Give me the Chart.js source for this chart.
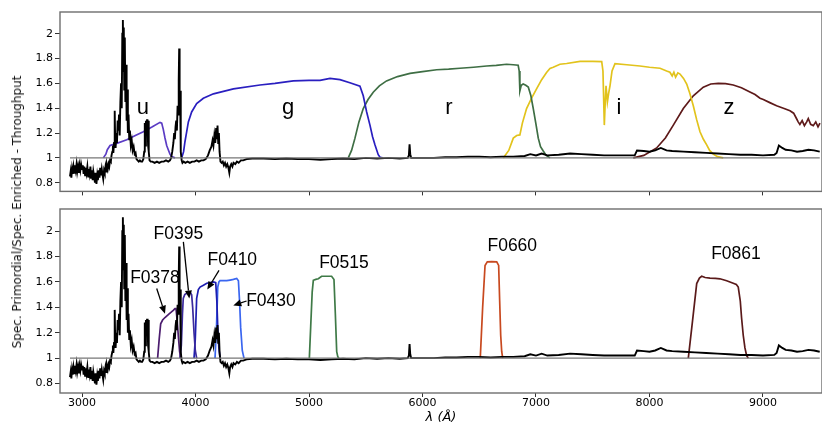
<!DOCTYPE html>
<html>
<head>
<meta charset="utf-8">
<script src="https://cdn.jsdelivr.net/npm/chart.js@4"></script>
<style>
  body { margin: 0; background: #fff; width: 822px; height: 425px; overflow: hidden; position: relative; }
  #topBox { position: absolute; left: 0; top: 0; width: 822px; height: 200px; }
  #botBox { position: absolute; left: 0; top: 200px; width: 822px; height: 225px; }
  #yTitle { position: absolute; left: 17px; top: 212px; transform: translate(-50%, -50%) rotate(-90deg);
            white-space: nowrap; font: 12px "DejaVu Sans", sans-serif; color: #111; }
</style>
</head>
<body>
<div id="topBox"><canvas id="topChart" width="822" height="200"></canvas></div>
<div id="botBox"><canvas id="botChart" width="822" height="225"></canvas></div>
<div id="yTitle">Spec. Primordial/Spec. Enriched - Throughput</div>
<script>
// Rangos y marcas de los ejes
const xMin = 2806, xMax = 9520;
const xTicks = [3000, 4000, 5000, 6000, 7000, 8000, 9000];
const yTicks = [0.8, 1, 1.2, 1.4, 1.6, 1.8, 2];

// Espectro (cociente primordial / enriquecido)
const specWave = [2894, 2900, 2906, 2912, 2918, 2925, 2932, 2938, 2945, 2952, 2958, 2965, 2972, 2978, 2985, 2992,
  3000, 3007, 3014, 3020, 3027, 3034, 3040, 3047, 3054, 3060, 3067, 3074, 3080, 3087, 3094, 3100, 3107, 3114, 3120,
  3127, 3134, 3140, 3147, 3154, 3160, 3167, 3174, 3180, 3187, 3194, 3200, 3207, 3214, 3220, 3227, 3234, 3240, 3247,
  3254, 3260, 3267, 3272, 3276, 3282, 3288, 3292, 3296, 3302, 3308, 3314, 3320, 3326, 3332, 3338, 3344, 3350, 3355,
  3360, 3364, 3368, 3372, 3377, 3382, 3388, 3393, 3398, 3404, 3410, 3416, 3422, 3430, 3438, 3446, 3455, 3464, 3472,
  3480, 3490, 3500, 3510, 3520, 3530, 3540, 3548, 3553, 3558, 3563, 3568, 3573, 3578, 3582, 3586, 3590, 3595, 3605,
  3620, 3640, 3660, 3680, 3700, 3720, 3740, 3760, 3775, 3785, 3795, 3805, 3812, 3818, 3824, 3830, 3836, 3842, 3848,
  3852, 3856, 3860, 3864, 3868, 3872, 3878, 3885, 3895, 3910, 3930, 3950, 3970, 3990, 4010, 4030, 4050, 4070, 4090,
  4110, 4125, 4140, 4150, 4158, 4166, 4174, 4182, 4188, 4194, 4200, 4206, 4212, 4220, 4230, 4240, 4250, 4260, 4270,
  4280, 4290, 4298, 4305, 4315, 4325, 4335, 4350, 4365, 4380, 4400, 4420, 4450, 4500, 4600, 4700, 4800, 4900, 5000,
  5100, 5200, 5300, 5400, 5500, 5600, 5700, 5800, 5870, 5880, 5886, 5892, 5900, 6000, 6100, 6200, 6300, 6400, 6500,
  6600, 6700, 6800, 6900, 6950, 7000, 7050, 7100, 7200, 7300, 7400, 7500, 7600, 7700, 7800, 7870, 7890, 7950, 8000,
  8050, 8100, 8150, 8200, 8300, 8400, 8500, 8600, 8700, 8800, 8900, 9000, 9100, 9120, 9140, 9170, 9200, 9250, 9300,
  9350, 9400, 9450, 9500];
const specRatio = [0.85, 0.89, 0.84, 0.91, 0.87, 0.93, 0.88, 0.94, 0.90, 0.95, 0.89, 0.93, 0.88, 0.94, 0.90, 0.95,
  0.91, 0.94, 0.87, 0.93, 0.86, 0.92, 0.88, 0.93, 0.85, 0.91, 0.87, 0.93, 0.84, 0.90, 0.82, 0.89, 0.85, 0.80, 0.88,
  0.79, 0.86, 0.82, 0.90, 0.84, 0.92, 0.86, 0.91, 0.87, 0.83, 0.90, 0.88, 0.93, 0.89, 0.94, 0.91, 0.95, 0.93, 0.98,
  0.97, 1.02, 1.05, 1.10, 1.04, 1.12, 1.38, 1.15, 1.08, 1.20, 1.12, 1.30, 1.22, 1.35, 1.18, 1.45, 1.60, 1.40, 2.00,
  2.11, 1.70, 2.05, 1.55, 1.97, 1.45, 1.75, 1.30, 1.55, 1.20, 1.35, 1.15, 1.22, 1.10, 1.14, 1.06, 1.09, 1.03, 1.04,
  0.99, 0.98, 0.97, 0.98, 0.97, 0.97, 0.99, 1.05, 1.28, 1.10, 1.30, 1.18, 1.31, 1.25, 1.10, 1.30, 1.05, 0.98, 0.97,
  0.97, 0.96, 0.97, 0.96, 0.97, 0.97, 0.98, 0.97, 0.98, 1.00, 1.05, 1.12, 1.20, 1.15, 1.25, 1.30, 1.22, 1.42, 1.35,
  1.62, 1.88, 1.40, 1.54, 1.20, 1.05, 0.98, 0.96, 0.97, 0.96, 0.97, 0.96, 0.97, 0.97, 0.98, 0.97, 0.98, 0.98, 0.99,
  1.02, 1.06, 1.09, 1.14, 1.10, 1.18, 1.12, 1.24, 1.15, 1.26, 1.12, 1.20, 1.05, 0.97, 0.96, 0.97, 0.94, 0.96, 0.93,
  0.95, 0.92, 0.88, 0.93, 0.95, 0.93, 0.96, 0.95, 0.97, 0.96, 0.98, 0.98, 0.99, 0.995, 0.995, 0.99, 0.995, 0.99, 0.99,
  0.985, 0.99, 0.995, 0.99, 1.0, 0.995, 1.0, 0.995, 1.0, 1.02, 1.11, 1.03, 1.0, 1.0, 1.0, 1.005, 1.005, 1.01, 1.01,
  1.005, 1.01, 1.01, 1.015, 1.03, 1.02, 1.035, 1.02, 1.025, 1.035, 1.03, 1.025, 1.02, 1.02, 1.02, 1.02, 1.06, 1.055, 1.05,
  1.06, 1.08, 1.06, 1.055, 1.05, 1.045, 1.04, 1.035, 1.03, 1.025, 1.025, 1.02, 1.025, 1.04, 1.10, 1.08, 1.065, 1.06, 1.05,
  1.055, 1.065, 1.06, 1.05];

// Linea de referencia en 1
const unityWave = [2894, 9500];
const unityRatio = [1, 1];

// Filtros anchos (panel superior)
const uWave = [3188, 3210, 3223, 3247, 3300, 3394, 3470, 3540, 3620, 3687, 3702, 3716, 3731, 3746, 3760, 3775, 3790, 3819];
const uThru = [1.0, 1.03, 1.066, 1.10, 1.115, 1.146, 1.18, 1.21, 1.25, 1.286, 1.28, 1.23, 1.16, 1.10, 1.066, 1.03, 1.01, 1.0];
const gWave = [3878, 3895, 3907, 3922, 3937, 3966, 4010, 4069, 4158, 4334, 4568, 4700, 4862, 5000, 5097, 5185, 5273,
  5360, 5449, 5478, 5508, 5537, 5560, 5581, 5610, 5626, 5650];
const gThru = [1.0, 1.05, 1.13, 1.21, 1.29, 1.37, 1.437, 1.48, 1.516, 1.556, 1.587, 1.60, 1.62, 1.625, 1.625, 1.64, 1.63,
  1.605, 1.577, 1.50, 1.37, 1.264, 1.17, 1.106, 1.026, 1.005, 1.0];
const rWave = [5346, 5375, 5405, 5440, 5478, 5520, 5566, 5620, 5683, 5780, 5890, 6000, 6125, 6230, 6330, 6450, 6565,
  6650, 6741, 6800, 6843, 6852, 6858, 6870, 6887, 6910, 6932, 6955, 6976, 7000, 7020, 7040, 7064, 7090, 7123];
const rThru = [1.0, 1.06, 1.159, 1.29, 1.397, 1.47, 1.529, 1.58, 1.62, 1.655, 1.68, 1.695, 1.71, 1.715, 1.722, 1.73, 1.74,
  1.745, 1.754, 1.75, 1.746, 1.70, 1.54, 1.585, 1.595, 1.585, 1.57, 1.50, 1.397, 1.27, 1.159, 1.09, 1.055, 1.02, 1.0];
const iWave = [6712, 6760, 6800, 6830, 6858, 6880, 6917, 6960, 7005, 7050, 7093, 7123, 7152, 7211, 7270, 7388, 7500,
  7579, 7590, 7602, 7610, 7617, 7629, 7640, 7652, 7670, 7696, 7800, 7916, 8000, 8093, 8151, 8180, 8200, 8215, 8230,
  8250, 8269, 8300, 8328, 8355, 8386, 8415, 8445, 8475, 8504, 8530, 8562, 8600, 8650];
const iThru = [1.0, 1.06, 1.159, 1.18, 1.185, 1.28, 1.397, 1.48, 1.556, 1.63, 1.688, 1.72, 1.73, 1.754, 1.76, 1.778, 1.778,
  1.775, 1.70, 1.264, 1.45, 1.58, 1.45, 1.52, 1.58, 1.70, 1.759, 1.75, 1.74, 1.73, 1.722, 1.70, 1.69, 1.66, 1.69, 1.65,
  1.685, 1.675, 1.64, 1.595, 1.52, 1.42, 1.31, 1.21, 1.15, 1.105, 1.06, 1.03, 1.01, 1.0];
const zWave = [7857, 7950, 8063, 8140, 8210, 8298, 8386, 8474, 8540, 8606, 8670, 8738, 8810, 8885, 8930, 8974, 9003,
  9060, 9120, 9180, 9238, 9270, 9295, 9310, 9325, 9345, 9365, 9385, 9399, 9420, 9443, 9465, 9485, 9502];
const zThru = [1.0, 1.02, 1.08, 1.16, 1.264, 1.397, 1.50, 1.57, 1.595, 1.60, 1.598, 1.587, 1.565, 1.53, 1.51, 1.48, 1.47,
  1.445, 1.42, 1.40, 1.38, 1.36, 1.317, 1.29, 1.27, 1.30, 1.26, 1.29, 1.317, 1.27, 1.26, 1.29, 1.25, 1.28];

// Filtros estrechos (panel inferior)
const f378Wave = [3666, 3680, 3693, 3710, 3731, 3770, 3804, 3819, 3828, 3838, 3849, 3860, 3870];
const f378Thru = [1.0, 1.15, 1.27, 1.30, 1.32, 1.35, 1.376, 1.39, 1.39, 1.30, 1.17, 1.05, 1.0];
const f395Wave = [3863, 3875, 3885, 3892, 3905, 3922, 3952, 3966, 3975, 3987, 3998, 4010];
const f395Thru = [1.0, 1.10, 1.35, 1.47, 1.50, 1.51, 1.52, 1.50, 1.40, 1.20, 1.06, 1.0];
const f410Wave = [3987, 3998, 4010, 4025, 4040, 4070, 4099, 4130, 4158, 4178, 4188, 4196, 4206, 4216];
const f410Thru = [1.0, 1.15, 1.47, 1.54, 1.56, 1.575, 1.59, 1.595, 1.60, 1.595, 1.45, 1.24, 1.08, 1.0];
const f430Wave = [4172, 4185, 4196, 4206, 4216, 4245, 4275, 4305, 4334, 4363, 4378, 4388, 4398, 4412, 4427];
const f430Thru = [1.0, 1.25, 1.56, 1.60, 1.61, 1.61, 1.61, 1.615, 1.62, 1.627, 1.61, 1.45, 1.24, 1.06, 1.0];
const f515Wave = [5003, 5015, 5028, 5038, 5060, 5082, 5111, 5150, 5199, 5220, 5232, 5244, 5254, 5264];
const f515Thru = [1.0, 1.25, 1.52, 1.613, 1.62, 1.625, 1.645, 1.645, 1.645, 1.62, 1.35, 1.05, 1.01, 1.0];
const f660Wave = [6509, 6530, 6551, 6571, 6610, 6654, 6671, 6680, 6689, 6698, 6707];
const f660Thru = [1.0, 1.40, 1.73, 1.758, 1.76, 1.758, 1.73, 1.45, 1.18, 1.05, 1.0];
const f861Wave = [8342, 8380, 8416, 8440, 8460, 8490, 8533, 8580, 8621, 8680, 8738, 8765, 8782, 8800, 8811, 8826, 8841, 8856, 8870];
const f861Thru = [1.0, 1.30, 1.587, 1.63, 1.645, 1.635, 1.63, 1.628, 1.625, 1.61, 1.59, 1.58, 1.56, 1.45, 1.32, 1.18, 1.08, 1.02, 1.0];

// Etiquetas de los filtros
const topNames = ['u', 'g', 'r', 'i', 'z'];
const topNameX = [3537, 4815, 6233, 7731, 8700];
const topNameY = [1.40, 1.40, 1.40, 1.40, 1.40];
const botNames = ['F0378', 'F0395', 'F0410', 'F0430', 'F0515', 'F0660', 'F0861'];
const botNameX = [3643, 3849, 4324, 4665, 5308, 6791, 8762];
const botNameY = [1.627, 1.98, 1.77, 1.45, 1.745, 1.884, 1.818];
// Flechas (desde la etiqueta hasta la curva)
const arrowX0 = [3658, 3893, 4207, 4450];
const arrowY0 = [1.548, 1.916, 1.692, 1.45];
const arrowX1 = [3731, 3945, 4104, 4333];
const arrowY1 = [1.35, 1.469, 1.54, 1.415];

function toPoints(xs, ys) {
  return xs.map((x, i) => ({ x: x, y: ys[i] }));
}

function lineSet(xs, ys, color, width) {
  return { data: toPoints(xs, ys), borderColor: color, borderWidth: width, pointRadius: 0, fill: false, tension: 0 };
}

// Marco completo alrededor del area del grafico
const framePlugin = {
  id: 'frame',
  afterDraw(chart) {
    const a = chart.chartArea, ctx = chart.ctx;
    ctx.save();
    ctx.strokeStyle = '#6e6e6e';
    ctx.lineWidth = 1.4;
    ctx.strokeRect(a.left, a.top, a.right - a.left, a.bottom - a.top);
    ctx.restore();
  }
};

// Texto y flechas sobre el grafico, en coordenadas de datos
function notesPlugin(names, nx, ny, font, arrows) {
  return {
    id: 'notes',
    afterDatasetsDraw(chart) {
      const xs = chart.scales.x, ys = chart.scales.y, ctx = chart.ctx;
      ctx.save();
      ctx.fillStyle = '#000';
      ctx.font = font;
      ctx.textAlign = 'center';
      ctx.textBaseline = 'middle';
      names.forEach((t, i) => ctx.fillText(t, xs.getPixelForValue(nx[i]), ys.getPixelForValue(ny[i])));
      if (arrows) {
        ctx.strokeStyle = '#000';
        ctx.lineWidth = 1.3;
        arrows.x0.forEach((v, i) => {
          const x0 = xs.getPixelForValue(v), y0 = ys.getPixelForValue(arrows.y0[i]);
          const x1 = xs.getPixelForValue(arrows.x1[i]), y1 = ys.getPixelForValue(arrows.y1[i]);
          const ang = Math.atan2(y1 - y0, x1 - x0);
          const hl = 8, hw = 3.5;
          const bx = x1 - hl * Math.cos(ang), by = y1 - hl * Math.sin(ang);
          ctx.beginPath();
          ctx.moveTo(x0, y0);
          ctx.lineTo(bx, by);
          ctx.stroke();
          ctx.beginPath();
          ctx.moveTo(x1, y1);
          ctx.lineTo(bx + hw * Math.sin(ang), by - hw * Math.cos(ang));
          ctx.lineTo(bx - hw * Math.sin(ang), by + hw * Math.cos(ang));
          ctx.closePath();
          ctx.fill();
        });
      }
      ctx.restore();
    }
  };
}

const tickFont = { family: 'DejaVu Sans', size: 11 };

function scalesFor(yMin, yMax, showX, xHeight) {
  return {
    x: {
      type: 'linear', min: xMin, max: xMax,
      afterBuildTicks: s => { s.ticks = xTicks.map(v => ({ value: v })); },
      afterFit: s => { s.height = xHeight; },
      grid: { drawOnChartArea: false, drawTicks: true, tickLength: 4, tickColor: '#333' },
      border: { display: false },
      ticks: { display: showX, padding: 0, color: '#000', font: tickFont, maxRotation: 0, autoSkip: false,
               callback: v => String(v) },
      title: { display: showX, text: 'λ (Å)', color: '#000', padding: { top: 0, bottom: 0 },
               font: { family: 'DejaVu Sans', size: 13, style: 'italic' } }
    },
    y: {
      min: yMin, max: yMax,
      afterBuildTicks: s => { s.ticks = yTicks.map(v => ({ value: v })); },
      afterFit: s => { s.width = 60; },
      grid: { drawOnChartArea: false, drawTicks: true, tickLength: 5, tickColor: '#333' },
      border: { display: false },
      ticks: { padding: 2, color: '#000', font: tickFont, callback: v => String(Math.round(v * 10) / 10) }
    }
  };
}

function makeChart(id, datasets, yMin, yMax, showX, xHeight, padTop, notes) {
  return new Chart(document.getElementById(id), {
    type: 'line',
    data: { datasets: datasets },
    options: {
      responsive: false, animation: false, devicePixelRatio: 1,
      layout: { padding: { top: padTop, right: 0, left: 0, bottom: 0 } },
      plugins: { legend: { display: false }, tooltip: { enabled: false } },
      scales: scalesFor(yMin, yMax, showX, xHeight)
    },
    plugins: [framePlugin, notes]
  });
}

// Panel superior: filtros anchos
makeChart('topChart', [
  lineSet(unityWave, unityRatio, '#777777', 1.4),
  lineSet(specWave, specRatio, '#000000', 1.9),
  lineSet(uWave, uThru, '#5b3cc4', 1.7),
  lineSet(gWave, gThru, '#2a1fc0', 1.7),
  lineSet(rWave, rThru, '#3e6e44', 1.7),
  lineSet(iWave, iThru, '#e2c31c', 1.7),
  lineSet(zWave, zThru, '#5e1a1a', 1.7)
], 0.73, 2.175, false, 6, 12,
  notesPlugin(topNames, topNameX, topNameY, '22px "Liberation Sans"', null));

// Panel inferior: filtros estrechos
makeChart('botChart', [
  lineSet(unityWave, unityRatio, '#777777', 1.4),
  lineSet(specWave, specRatio, '#000000', 1.9),
  lineSet(f378Wave, f378Thru, '#4b1c6e', 1.7),
  lineSet(f395Wave, f395Thru, '#3b2a9c', 1.7),
  lineSet(f410Wave, f410Thru, '#1e1eb0', 1.7),
  lineSet(f430Wave, f430Thru, '#3a66f0', 1.7),
  lineSet(f515Wave, f515Thru, '#3f7a47', 1.7),
  lineSet(f660Wave, f660Thru, '#c8491f', 1.7),
  lineSet(f861Wave, f861Thru, '#5a1a1a', 1.7)
], 0.725, 2.175, true, 32, 9,
  notesPlugin(botNames, botNameX, botNameY, '17.5px "Liberation Sans"',
    { x0: arrowX0, y0: arrowY0, x1: arrowX1, y1: arrowY1 }));
</script>
</body>
</html>
